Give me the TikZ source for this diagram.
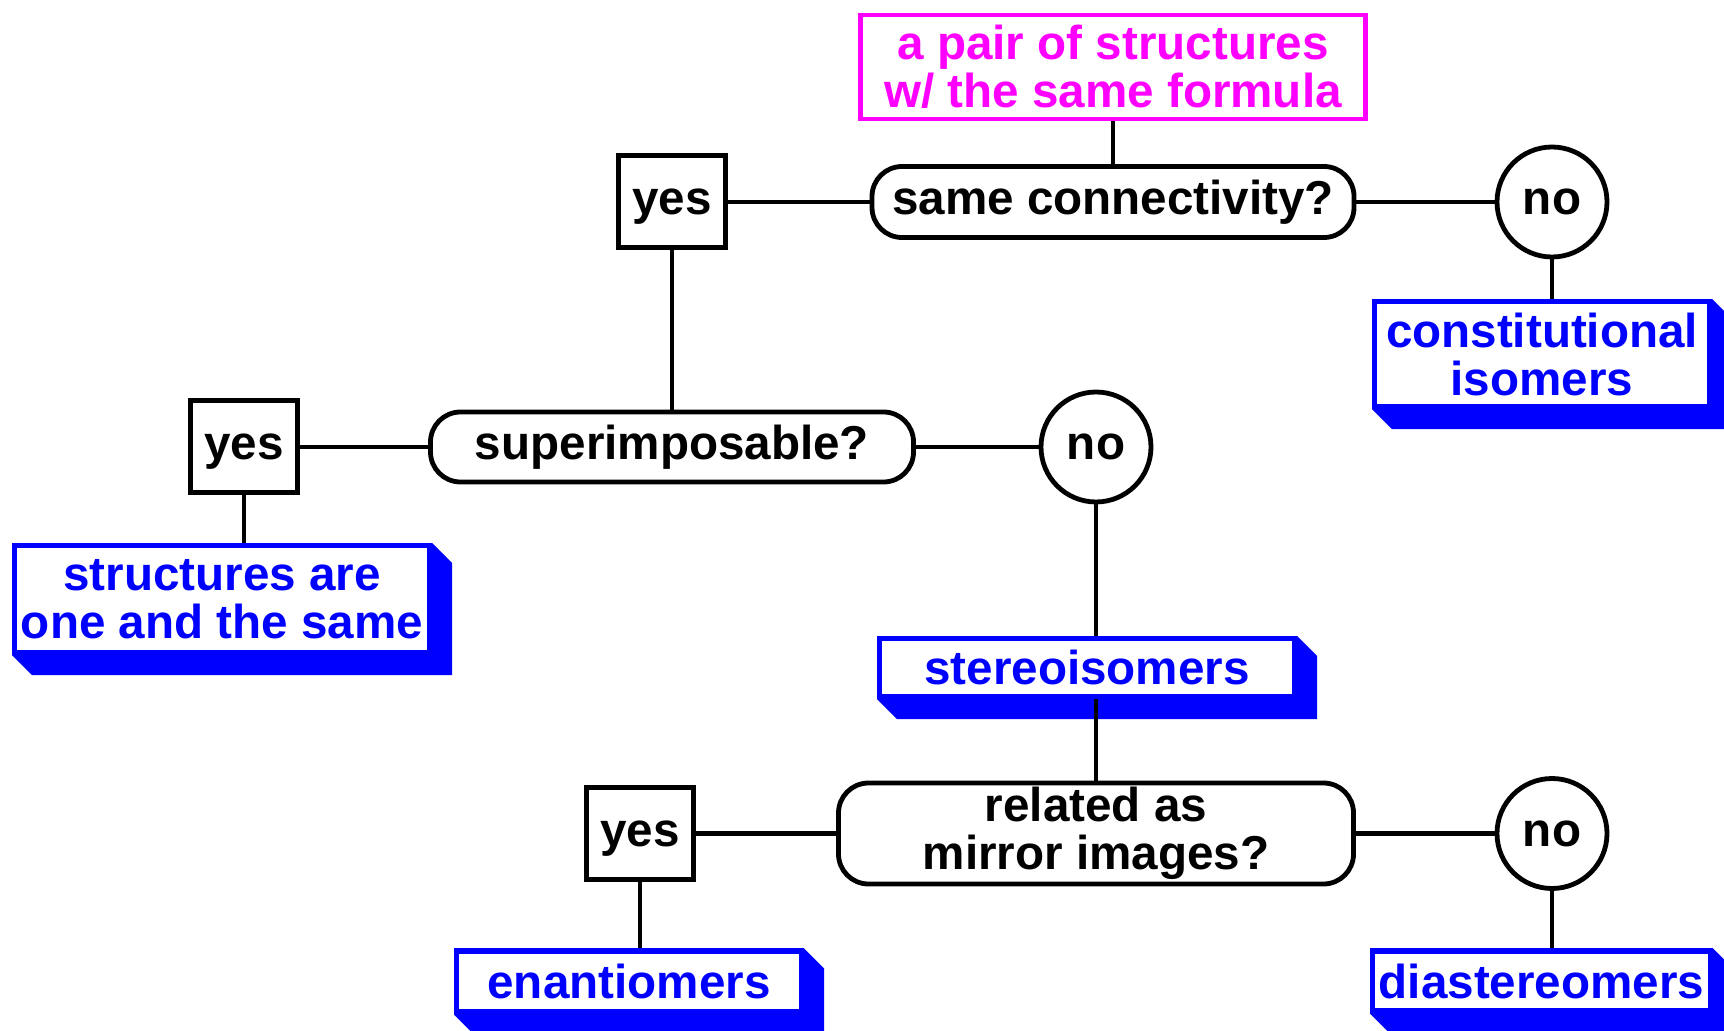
\documentclass[tikz,border=0pt]{standalone}
\usepackage{fontspec}
\setmainfont{Liberation Sans}

% solid blue slab under a result box
\newcommand{\slab}[1]{%
  \fill[isoblue] (#1.north east) -- ++(20,20) -- ([shift={(20,20)}]#1.south east)
    -- ([shift={(20,20)}]#1.south west) -- (#1.south west) -- (#1.south east) -- cycle;}

\begin{document}
\begin{tikzpicture}[x=0.5pt, y=-0.5pt,
  every node/.style={font=\fontsize{23.8}{24}\selectfont\bfseries, align=center, inner sep=0pt},
  ask/.style={draw, line width=2.4pt, rounded corners=15pt},
  yesbox/.style={draw, line width=2.5pt, minimum width=53.5pt, minimum height=46pt, text depth=0pt},
  nocirc/.style={draw, circle, line width=2.4pt, minimum size=55pt},
  result/.style={draw=isoblue, text=isoblue, fill=white, line width=2.6pt},
  start/.style={draw=isomag, text=isomag, line width=2.2pt},
  link/.style={line width=2.2pt}]

\definecolor{isoblue}{rgb}{0,0,1}
\definecolor{isomag}{rgb}{1,0,1}

\useasboundingbox (0,0) rectangle (1724,1031);

\node[start, minimum width=252.5pt, minimum height=52pt] (pair) at (1113,67) {a pair of structures\\w/ the same formula};
\node[ask, minimum width=241pt, minimum height=35.5pt] (conn) at (1113,202) {same connectivity?};
\node[yesbox] (yes1) at (672,202) {yes};
\node[nocirc] (no1) at (1552,202) {no};
\node[result, minimum width=167.5pt, minimum height=52.5pt] (const) at (1542,354) {constitutional\\isomers};

\node[ask, minimum width=241.5pt, minimum height=35pt] (super) at (672,447) {superimposable?};
\node[yesbox] (yes2) at (244,447) {yes};
\node[nocirc] (no2) at (1096,447) {no};
\node[result, minimum width=207.5pt, minimum height=53.5pt] (same) at (222,599) {structures are\\one and the same};
\node[result, minimum width=207.5pt, minimum height=29pt] (stereo) at (1087,667.5) {stereoisomers};

\node[ask, minimum width=257.5pt, minimum height=50.5pt] (mirror) at (1096,833.5) {related as\\mirror images?};
\node[yesbox] (yes3) at (640,833.5) {yes};
\node[nocirc] (no3) at (1552,833.5) {no};
\node[result, minimum width=172.5pt, minimum height=30.5pt] (enant) at (629,981.5) {enantiomers};
\node[result, minimum width=169pt, minimum height=30pt] (diast) at (1541.5,981) {diastereomers};

\slab{const}
\slab{same}
\slab{stereo}
\slab{enant}
\slab{diast}

\draw[link] (pair) -- (conn);
\draw[link] (yes1) -- (conn);
\draw[link] (conn) -- (no1);
\draw[link] (yes1) -- (super);
\draw[link] (no1) -- (no1 |- const.north);

\draw[link] (yes2) -- (super);
\draw[link] (super) -- (no2);
\draw[link] (yes2) -- (yes2 |- same.north);
\draw[link] (no2) -- (no2 |- stereo.north);
\draw[link] (mirror.north |- stereo.south) -- (mirror.north);

\draw[link] (yes3) -- (mirror);
\draw[link] (mirror) -- (no3);
\draw[link] (yes3) -- (yes3 |- enant.north);
\draw[link] (no3) -- (no3 |- diast.north);

\end{tikzpicture}
\end{document}
